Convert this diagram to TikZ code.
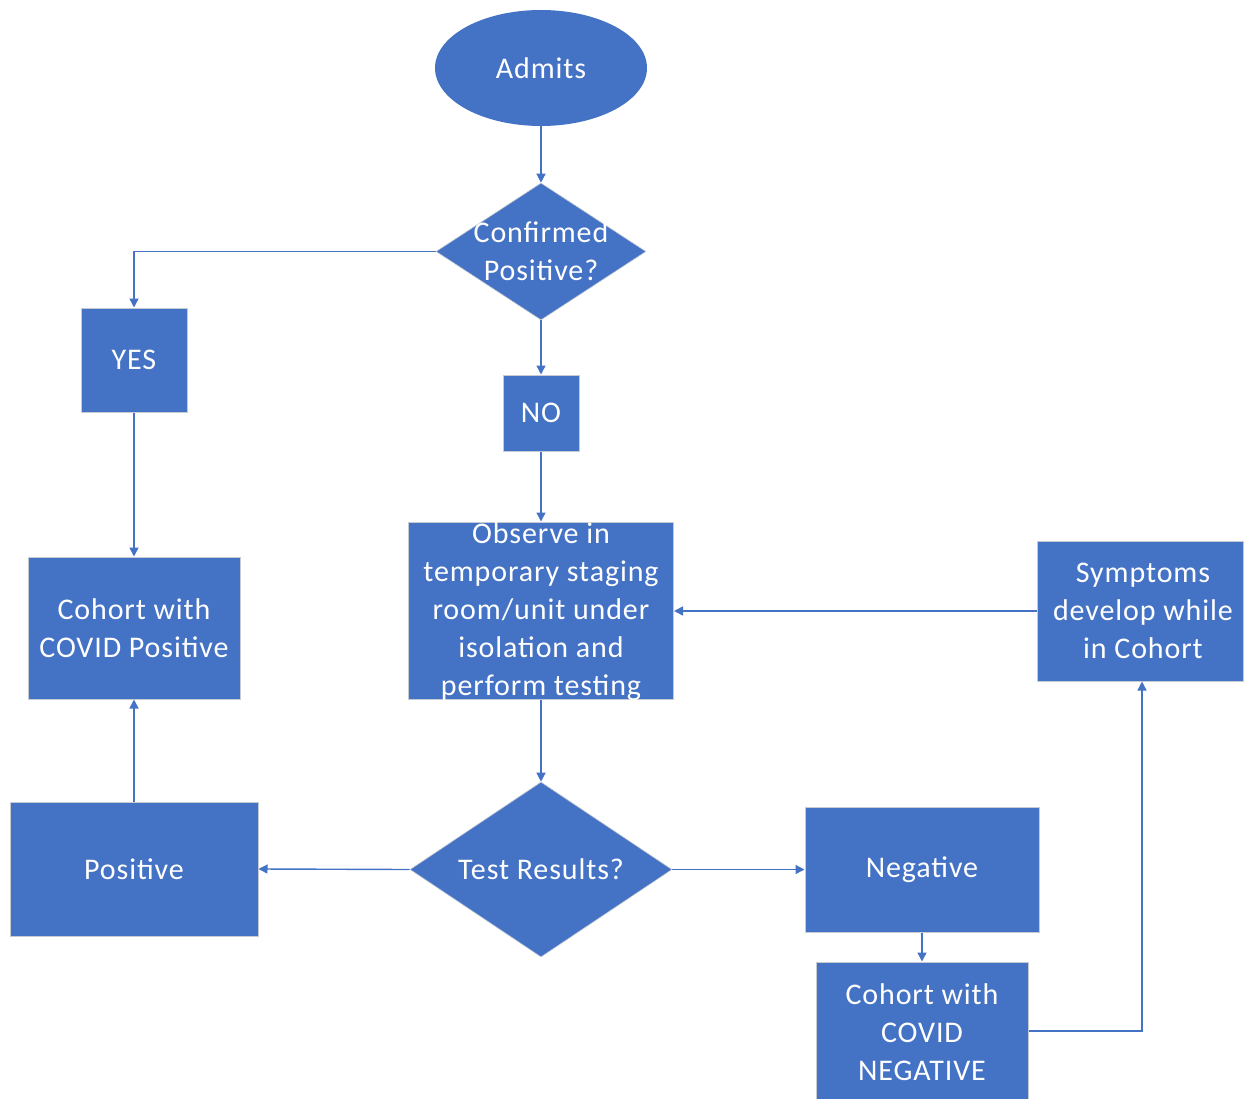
\documentclass[tikz,border=0pt]{standalone}
\usepackage{fontspec}
\setmainfont[LetterSpace=3]{Carlito}
\usetikzlibrary{shapes.geometric,arrows.meta}
\definecolor{boxblue}{HTML}{4472C4}
\definecolor{edgegray}{HTML}{C5CAD3}
\begin{document}
\begin{tikzpicture}[x=1pt,y=-1pt,
  box/.style={rectangle,fill=boxblue,draw=edgegray,line width=1pt,inner sep=0pt},
  dia/.style={diamond,fill=boxblue,draw=edgegray,line width=0.6pt,inner sep=0pt},
  txt/.style={text=white,align=center,font=\fontsize{30}{38}\selectfont},
  conn/.style={draw=boxblue,line width=1.4pt,-{Triangle[width=9pt,length=9pt]}}]
\useasboundingbox (0,0) rectangle (1244,1099);
% nodes
\node[ellipse,fill=boxblue,minimum width=212pt,minimum height=116pt,inner sep=0pt,txt] (admits) at (541,68) {Admits};
\node[dia,minimum width=210pt,minimum height=137pt] (q1) at (541,251.5) {};
\node[txt] (q1t) at (541,251.5) {Confirmed\\Positive?};
\node[box,txt,minimum width=106pt,minimum height=104pt] (yes) at (134,360) {YES};
\node[box,txt,minimum width=76pt,minimum height=76pt] (no) at (541,413) {NO};
\node[box,minimum width=265pt,minimum height=177pt] (obs) at (541,610.5) {};
\node[txt] (obst) at (541,612) {Observe in\\temporary staging\\room/unit under\\isolation and\\perform testing};
\node[box,minimum width=206pt,minimum height=140pt] (symp) at (1140,611) {};
\node[txt] (sympt) at (1143,611) {Symptoms\\develop while\\in Cohort};
\node[box,txt,minimum width=212pt,minimum height=142pt] (cpos) at (134,628) {Cohort with\\COVID Positive};
\node[box,txt,minimum width=248pt,minimum height=134pt] (positive) at (134,869) {Positive};
\node[dia,minimum width=262pt,minimum height=175pt] (q2) at (541,869.5) {};
\node[txt] (q2t) at (541,869.5) {Test Results?};
\node[box,txt,minimum width=234pt,minimum height=125pt] (negative) at (922,869.5) {Negative};
\node[box,minimum width=212pt,minimum height=138pt] (cneg) at (922,1031) {};
\node[txt] (cnegt) at (922,1032) {Cohort with\\COVID\\NEGATIVE};
% connectors
\draw[conn] (admits) -- (q1);
\draw[conn] (q1.west) -| (yes.north);
\draw[conn] (q1) -- (no);
\draw[conn] (yes) -- (cpos);
\draw[conn] (no) -- (obs);
\draw[conn] (obs) -- (q2);
\draw[conn] (q2.west) -- (positive.east);
\draw[conn] (q2.east) -- (negative.west);
\draw[conn] (positive) -- (cpos);
\draw[conn] (negative) -- (cneg);
\draw[conn] (cneg.east) -| ([xshift=2pt]symp.south);
\draw[conn] (symp.west) -- (obs.east |- symp.west);
\end{tikzpicture}
\end{document}
